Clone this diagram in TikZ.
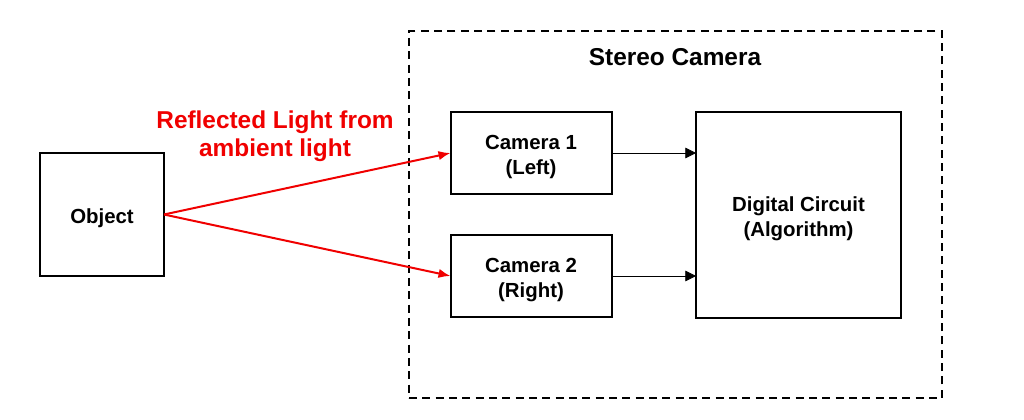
\documentclass[tikz,border=0pt]{standalone}
\usepackage{fontspec}
\setmainfont{Liberation Sans}
\usetikzlibrary{arrows.meta, positioning}
\definecolor{lightred}{RGB}{240, 0, 0}

\begin{document}
\begin{tikzpicture}[x=0.75pt, y=-0.75pt,
    block/.style={draw, line width=1.5pt, inner sep=0pt, outer sep=0pt},
    blocktext/.style={align=center, yshift=-2.8pt, font=\fontsize{15.3}{19}\selectfont\bfseries},
    redarrow/.style={-{Latex[length=9pt,width=7pt]}, draw=lightred, line width=1.5pt},
    blackarrow/.style={-{Triangle[length=8pt,width=8pt]}, line width=0.6pt}]
            \useasboundingbox (0,0) rectangle (1024,420);

            % Stereo camera frame
            \node[draw, dashed, dash pattern=on 6pt off 4pt, line width=1.4pt, inner sep=0pt,
                  minimum width=399.75pt, minimum height=275.25pt] (stereo) at (675.5,214.5) {};
            \node[font=\fontsize{18.3}{21}\selectfont\bfseries] (title) at (675,57) {Stereo Camera};

            % Blocks
            \node[block, minimum width=93pt, minimum height=92.25pt,
                  label={[blocktext]center:{Object}}] (obj) at (102,214.5) {};
            \node[block, minimum width=120.75pt, minimum height=61.5pt,
                  label={[blocktext]center:{Camera 1\\(Left)}}] (cam1) at (531,153) {};
            \node[block, minimum width=120.75pt, minimum height=61.5pt,
                  label={[blocktext]center:{Camera 2\\(Right)}}] (cam2) at (531,276) {};
            \node[block, minimum width=153.75pt, minimum height=153.75pt,
                  label={[blocktext]center:{Digital Circuit\\(Algorithm)}}] (dig) at (798.5,215) {};

            \node[text=lightred, align=center, font=\fontsize{18.3}{21}\selectfont\bfseries] (light) at (275,136) {Reflected Light from\\ambient light};

            % Light paths
            \draw[redarrow] (obj.east) -- (cam1.west);
            \draw[redarrow] (obj.east) -- (cam2.west);

            % Signals
            \draw[blackarrow] (cam1.east) -- (cam1.east -| dig.west);
            \draw[blackarrow] (cam2.east) -- (cam2.east -| dig.west);
        \end{tikzpicture}
\end{document}
